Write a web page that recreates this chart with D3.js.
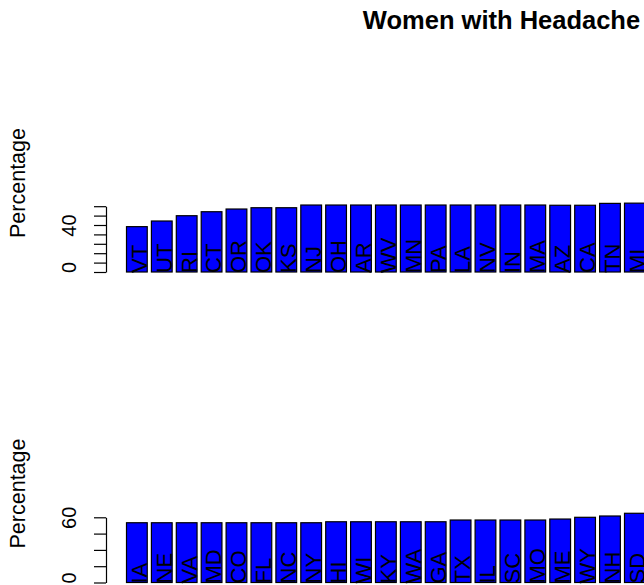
<!DOCTYPE html>
<html>
<head>
<meta charset="utf-8">
<script src="https://cdn.jsdelivr.net/npm/d3@7"></script>
<style>
  body { margin: 0; background: #fff; }
  svg { display: block; }
  text { font-family: "Liberation Sans", Arial, Helvetica, sans-serif; }
</style>
</head>
<body>
<svg id="chart" width="644" height="585"></svg>
<script>
// values (percent)
const topStates = ["VT","UT","RI","CT","OR","OK","KS","NJ","OH","AR","WV","MN","PA","LA","NV","IN","MA","AZ","CA","TN","MI"];
const topValues = [38.6,43.4,47.9,51.3,53.6,54.7,54.7,57.0,57.0,57.0,57.0,57.0,57.0,57.0,57.0,57.0,57.0,56.8,56.8,58.4,58.6];
const bottomStates = ["IA","NE","VA","MD","CO","FL","NC","NY","HI","WI","KY","WA","GA","TX","IL","SC","MO","ME","WY","NH","SD"];
const bottomValues = [55.0,55.0,55.0,55.0,55.0,55.0,55.0,55.0,55.9,55.9,55.9,55.9,55.9,57.5,57.5,57.5,57.5,58.4,60.0,61.2,63.7];
const topTicks = [0,8,16,24,32,40,48,56];
const topTickLabels = [0,40];
const bottomTicks = [0,15,30,45,60];
const bottomTickLabels = [0,60];

const svg = d3.select("#chart");

svg.append("text")
    .attr("x", 501.5)
    .attr("y", 29)
    .attr("text-anchor", "middle")
    .style("font-size", "25.5px")
    .style("font-weight", "bold")
    .text("Women with Headache");

function drawPanel(states, values, ticks, tickLabels, yRange) {
    let x = d3.scaleBand()
        .domain(states)
        .range([126.5, 126.5 + 24.9 * (states.length - 1/6)])
        .paddingInner(1/6)
        .paddingOuter(0);
    let y = d3.scaleLinear()
        .domain([ticks[0], ticks[ticks.length - 1]])
        .range(yRange);
    let g = svg.append("g");

    g.selectAll("rect")
        .data(states)
        .enter().append("rect")
        .attr("x", d => x(d))
        .attr("y", (d, i) => y(values[i]))
        .attr("width", x.bandwidth())
        .attr("height", (d, i) => y(0) - y(values[i]))
        .style("fill", "#0000FF")
        .style("stroke", "#000")
        .style("stroke-width", 1.2);

    g.selectAll(".barlab")
        .data(states)
        .enter().append("text")
        .attr("class", "barlab")
        .attr("transform", d => "translate(" + (x(d) + x.bandwidth() / 2 + 2) + "," + (y(0) + 1) + ") rotate(-90)")
        .attr("dy", "0.36em")
        .attr("text-anchor", "start")
        .style("font-size", "22px")
        .style("fill", "#000")
        .text(d => d);

    let axis = g.append("g")
        .attr("transform", "translate(106,0)")
        .call(d3.axisLeft(y)
            .tickValues(ticks)
            .tickSize(12)
            .tickSizeOuter(0)
            .tickFormat(d => tickLabels.includes(d) ? d : ""));
    axis.selectAll("path, line").style("stroke", "#000").style("stroke-width", 1.2);
    axis.selectAll("text")
        .attr("x", null)
        .attr("dy", null)
        .attr("text-anchor", "middle")
        .attr("transform", d => "translate(-30," + (d === 0 ? -5 : 0) + ") rotate(-90)")
        .style("font-size", "20px")
        .style("font-family", "'Liberation Sans', Arial, sans-serif")
        .style("fill", "#000");

    g.append("text")
        .attr("transform", "translate(24.5," + (y(0) - 89) + ") rotate(-90)")
        .attr("text-anchor", "middle")
        .style("font-size", "21.5px")
        .text("Percentage");
}

drawPanel(topStates, topValues, topTicks, topTickLabels, [272, 206.2]);
drawPanel(bottomStates, bottomValues, bottomTicks, bottomTickLabels, [582.5, 517.3]);
</script>
</body>
</html>
